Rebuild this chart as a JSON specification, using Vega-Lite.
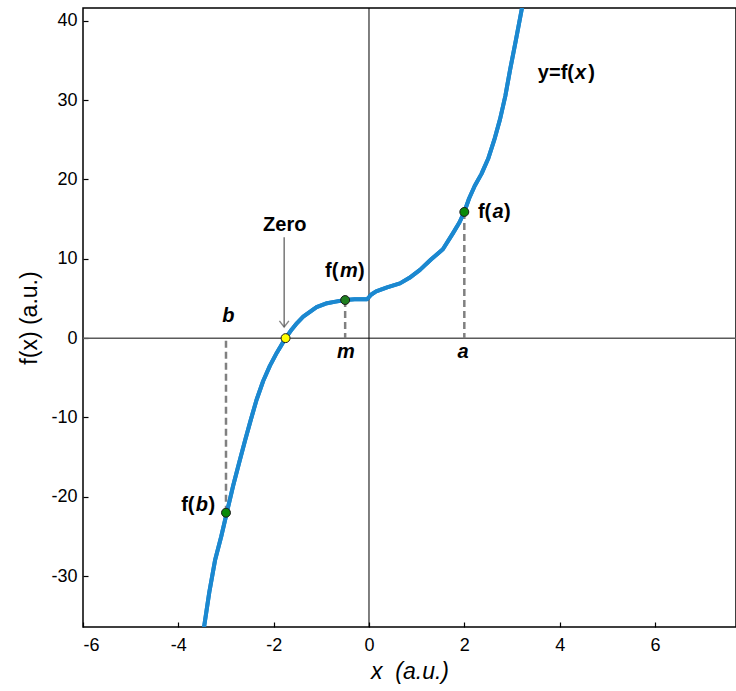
{
  "$schema": "https://vega.github.io/schema/vega-lite/v6.json",
  "width": 653,
  "height": 619,
  "autosize": "none",
  "padding": {"left": 83, "top": 8, "right": 0, "bottom": 64},
  "background": "white",
  "config": {
    "view": {"stroke": "black", "strokeWidth": 1.5},
    "axis": {
      "grid": false,
      "domain": false,
      "offset": -5,
      "tickColor": "black",
      "tickWidth": 1.2,
      "tickSize": 5,
      "labelFont": "Liberation Sans",
      "labelFontSize": 18,
      "labelColor": "black",
      "labelExpr": "replace(datum.label, '\u2212', '-')",
      "titleFont": "Liberation Sans",
      "titleFontSize": 23,
      "titleFontWeight": "normal",
      "titleColor": "black"
    }
  },
  "datasets": {
    "curve": [
      {"x": -3.46, "y": -36.4}, {"x": -3.35, "y": -32.0}, {"x": -3.23, "y": -28.0},
      {"x": -3.1, "y": -25.0}, {"x": -2.98, "y": -21.9}, {"x": -2.85, "y": -18.6},
      {"x": -2.72, "y": -15.6}, {"x": -2.6, "y": -12.9}, {"x": -2.48, "y": -10.3},
      {"x": -2.36, "y": -7.8}, {"x": -2.22, "y": -5.4}, {"x": -2.08, "y": -3.5},
      {"x": -1.93, "y": -1.8}, {"x": -1.75, "y": 0.0}, {"x": -1.62, "y": 1.1},
      {"x": -1.51, "y": 1.9}, {"x": -1.38, "y": 2.7}, {"x": -1.24, "y": 3.3},
      {"x": -1.1, "y": 3.9}, {"x": -0.88, "y": 4.4}, {"x": -0.7, "y": 4.6},
      {"x": -0.5, "y": 4.8}, {"x": -0.3, "y": 4.9}, {"x": -0.04, "y": 4.9},
      {"x": 0.05, "y": 5.5}, {"x": 0.15, "y": 5.9}, {"x": 0.38, "y": 6.4},
      {"x": 0.65, "y": 6.9}, {"x": 0.85, "y": 7.6}, {"x": 1.07, "y": 8.6},
      {"x": 1.3, "y": 9.9}, {"x": 1.55, "y": 11.2}, {"x": 1.76, "y": 13.2},
      {"x": 1.9, "y": 14.6}, {"x": 2.0, "y": 15.9}, {"x": 2.1, "y": 17.6},
      {"x": 2.22, "y": 19.2}, {"x": 2.36, "y": 20.7}, {"x": 2.5, "y": 22.6},
      {"x": 2.63, "y": 25.0}, {"x": 2.75, "y": 27.6}, {"x": 2.86, "y": 30.5},
      {"x": 2.96, "y": 33.8}, {"x": 3.08, "y": 37.5}, {"x": 3.21, "y": 41.6}
    ],
    "hline": [{"y": 0}],
    "vline": [{"x": 0}],
    "drops": [
      {"x": -3, "y": -22},
      {"x": -0.5, "y": 4.8},
      {"x": 2, "y": 15.9}
    ],
    "arrow": [{"x": -1.78, "y": 12.7, "y2": 1.4}],
    "points": [
      {"x": -3, "y": -22, "kind": "f(b)"},
      {"x": 2, "y": 15.9, "kind": "f(a)"},
      {"x": -0.5, "y": 4.8, "kind": "f(m)"},
      {"x": -1.75, "y": 0, "kind": "zero"}
    ],
    "boldText": [
      {"x": -2.222, "y": 14.25, "text": "Zero"},
      {"x": -0.922, "y": 8.4, "text": "f("},
      {"x": -0.231, "y": 8.4, "text": ")"},
      {"x": 2.285, "y": 15.9, "text": "f("},
      {"x": 2.83, "y": 15.9, "text": ")"},
      {"x": -3.941, "y": -21.06, "text": "f("},
      {"x": -3.365, "y": -21.06, "text": ")"},
      {"x": 3.543, "y": 33.4, "text": "y=f("},
      {"x": 4.6, "y": 33.4, "text": ")"}
    ],
    "italicText": [
      {"x": -0.608, "y": 8.4, "text": "m"},
      {"x": 2.589, "y": 15.9, "text": "a"},
      {"x": -3.637, "y": -21.06, "text": "b"},
      {"x": 4.32, "y": 33.4, "text": "x"},
      {"x": -3.08, "y": 2.8, "text": "b"},
      {"x": -0.671, "y": -1.8, "text": "m"},
      {"x": 1.855, "y": -1.8, "text": "a"}
    ]
  },
  "layer": [
    {
      "data": {"name": "curve"},
      "mark": {"type": "line", "color": "#1b88d0", "strokeWidth": 4, "clip": true, "strokeJoin": "round"},
      "encoding": {
        "x": {
          "field": "x", "type": "quantitative",
          "scale": {"domain": [-6, 7.7], "nice": false, "zero": false},
          "axis": {"values": [-6, -4, -2, 0, 2, 4, 6], "title": "x\u00a0\u00a0(a.u.)", "titleFontStyle": "italic", "titlePadding": 6, "labelPadding": 9}
        },
        "y": {
          "field": "y", "type": "quantitative",
          "scale": {"domain": [-36.4, 41.6], "nice": false, "zero": false},
          "axis": {"values": [-30, -20, -10, 0, 10, 20, 30, 40], "title": "f(x) (a.u.)", "titlePadding": 9, "labelPadding": 6}
        },
        "order": {"field": "x", "type": "quantitative"}
      }
    },
    {
      "data": {"name": "hline"},
      "mark": {"type": "rule", "color": "#5a5a5a", "strokeWidth": 1.5},
      "encoding": {"y": {"field": "y", "type": "quantitative"}}
    },
    {
      "data": {"name": "vline"},
      "mark": {"type": "rule", "color": "black", "strokeWidth": 1},
      "encoding": {"x": {"field": "x", "type": "quantitative"}}
    },
    {
      "data": {"name": "drops"},
      "mark": {"type": "rule", "color": "#808080", "strokeWidth": 2.5, "strokeDash": [7, 4]},
      "encoding": {
        "x": {"field": "x", "type": "quantitative"},
        "y": {"field": "y", "type": "quantitative"},
        "y2": {"datum": 0}
      }
    },
    {
      "data": {"name": "curve"},
      "mark": {"type": "line", "color": "#1b88d0", "strokeWidth": 4, "clip": true, "strokeJoin": "round"},
      "encoding": {
        "x": {"field": "x", "type": "quantitative"},
        "y": {"field": "y", "type": "quantitative"},
        "order": {"field": "x", "type": "quantitative"}
      }
    },
    {
      "data": {"name": "arrow"},
      "mark": {"type": "rule", "color": "#555555", "strokeWidth": 1.2},
      "encoding": {
        "x": {"field": "x", "type": "quantitative"},
        "y": {"field": "y", "type": "quantitative"},
        "y2": {"field": "y2"}
      }
    },
    {
      "data": {"name": "arrow"},
      "mark": {"type": "point", "shape": "M-1,-1.3L0,0L1,-1.3", "filled": false, "color": "#555555", "strokeWidth": 1.4, "size": 90},
      "encoding": {
        "x": {"field": "x", "type": "quantitative"},
        "y": {"field": "y2", "type": "quantitative"}
      }
    },
    {
      "data": {"name": "points"},
      "mark": {"type": "point", "filled": true, "stroke": "#1a1a1a", "strokeWidth": 1, "opacity": 1},
      "encoding": {
        "x": {"field": "x", "type": "quantitative"},
        "y": {"field": "y", "type": "quantitative"},
        "fill": {
          "field": "kind", "type": "nominal", "legend": null,
          "scale": {"domain": ["f(b)", "f(a)", "f(m)", "zero"], "range": ["#0a8a0a", "#0a8a0a", "#1f7f1f", "#ffff00"]}
        },
        "size": {
          "field": "kind", "type": "nominal", "legend": null,
          "scale": {"domain": ["f(b)", "f(a)", "f(m)", "zero"], "range": [80, 80, 140, 120]}
        }
      }
    },
    {
      "data": {"name": "boldText"},
      "mark": {"type": "text", "font": "Liberation Sans", "fontSize": 20, "fontWeight": "bold", "align": "left", "baseline": "middle", "color": "black"},
      "encoding": {
        "x": {"field": "x", "type": "quantitative"},
        "y": {"field": "y", "type": "quantitative"},
        "text": {"field": "text"}
      }
    },
    {
      "data": {"name": "italicText"},
      "mark": {"type": "text", "font": "Liberation Sans", "fontSize": 20, "fontWeight": "bold", "fontStyle": "italic", "align": "left", "baseline": "middle", "color": "black"},
      "encoding": {
        "x": {"field": "x", "type": "quantitative"},
        "y": {"field": "y", "type": "quantitative"},
        "text": {"field": "text"}
      }
    }
  ]
}
